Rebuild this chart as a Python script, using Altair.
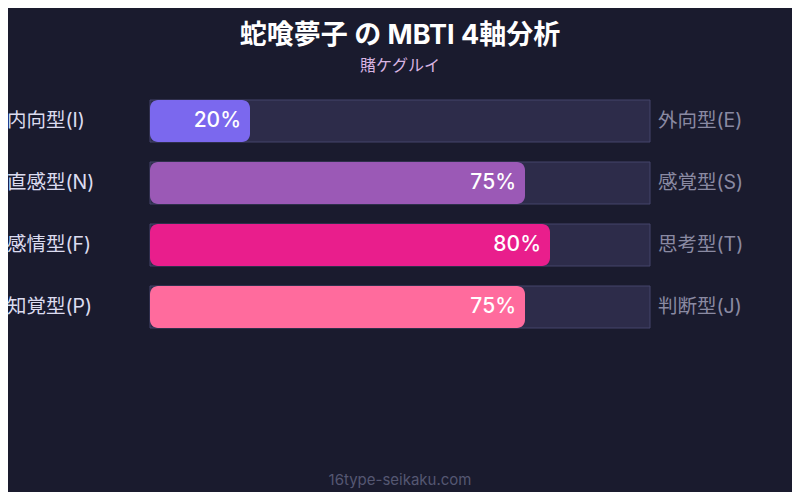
import altair as alt
import pandas as pd

left_labels = ["内向型(I)", "直感型(N)", "感情型(F)", "知覚型(P)"]
right_labels = ["外向型(E)", "感覚型(S)", "思考型(T)", "判断型(J)"]
values = [20, 75, 80, 75]
colors = ["#7b68ee", "#9b59b6", "#e91e8c", "#ff6b9d"]
title_text = ["蛇喰夢子 の MBTI 4軸分析"]
subtitle_text = ["賭ケグルイ"]
footer_text = ["16type-seikaku.com"]

BG = "#1a1b2e"
FONT = "Inter, Noto Sans CJK JP, sans-serif"

df = pd.DataFrame({
    "left": left_labels,
    "right": right_labels,
    "value": values,
    "color": colors,
    "full": [100] * len(values),
    "zero": [0] * len(values),
})
df["pct"] = df["value"].astype(str) + "%"

xs = alt.Scale(domain=[0, 100], range=[142, 642])
ys = alt.Scale(domain=left_labels, range=[92, 320], paddingInner=20 / 62, paddingOuter=0)

base = alt.Chart(df)

track = base.mark_bar(color="#2d2c4a", stroke="#45456a", strokeWidth=1).encode(
    x=alt.X("zero:Q", scale=xs, axis=None),
    x2="full:Q",
    y=alt.Y("left:N", scale=ys, axis=None, sort=left_labels),
)

fill = base.mark_bar(cornerRadius=8).encode(
    x=alt.X("zero:Q", scale=xs, axis=None),
    x2="value:Q",
    y=alt.Y("left:N", scale=ys, axis=None, sort=left_labels),
    color=alt.Color("color:N", scale=None, legend=None),
)

pct = base.mark_text(align="right", baseline="middle", dx=-9, fontSize=21,
                     fontWeight=500, color="white", font=FONT).encode(
    x=alt.X("value:Q", scale=xs),
    y=alt.Y("left:N", scale=ys, sort=left_labels, bandPosition=0.5),
    text="pct:N",
)

lefttxt = base.mark_text(align="left", baseline="middle", fontSize=19.5,
                         color="#dcdcf0", font=FONT).encode(
    x=alt.value(-1),
    y=alt.Y("left:N", scale=ys, sort=left_labels, bandPosition=0.5),
    text="left:N",
)

righttxt = base.mark_text(align="left", baseline="middle", fontSize=19.5,
                          color="#8a8aa2", font=FONT).encode(
    x=alt.value(650),
    y=alt.Y("left:N", scale=ys, sort=left_labels, bandPosition=0.5),
    text="right:N",
)

title = alt.Chart(pd.DataFrame({"t": title_text})).mark_text(
    align="center", baseline="middle", fontSize=27, fontWeight="bold",
    color="white", font=FONT).encode(x=alt.value(392), y=alt.value(28), text="t:N")

subtitle = alt.Chart(pd.DataFrame({"t": subtitle_text})).mark_text(
    align="center", baseline="middle", fontSize=16,
    color="#d8b4e2", font=FONT).encode(x=alt.value(392), y=alt.value(58), text="t:N")

footer = alt.Chart(pd.DataFrame({"t": footer_text})).mark_text(
    align="center", baseline="middle", fontSize=15,
    color="#555772", font=FONT).encode(x=alt.value(392), y=alt.value(472), text="t:N")

chart = alt.layer(track, fill, pct, lefttxt, righttxt, title, subtitle, footer).properties(
    width=784, height=484,
    autosize=alt.AutoSizeParams(type="none"),
    padding=0,
    background=BG,
).configure_view(stroke=None)

chart.save("out.html", embed_options={"renderer": "svg", "actions": False})
